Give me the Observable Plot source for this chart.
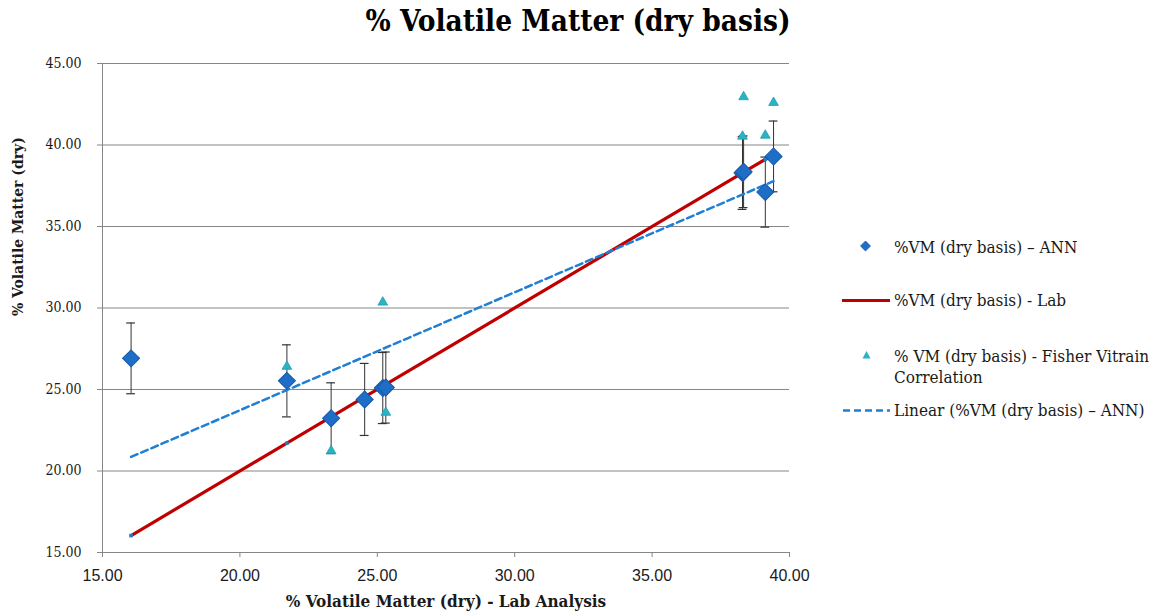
<!DOCTYPE html>
<html>
<head>
<meta charset="utf-8">
<script src="https://cdn.jsdelivr.net/npm/d3@7"></script>
<script src="https://cdn.jsdelivr.net/npm/@observablehq/plot@0.6"></script>
<style>
  body { margin: 0; background: #fff; }
  #wrap { position: relative; width: 1156px; height: 615px; font-family: "DejaVu Serif Condensed", "DejaVu Serif", serif; font-stretch: condensed; }
  #title { position: absolute; left: 0; top: 3px; width: 1156px; text-align: center; font-weight: bold; font-size: 29.5px; color: #000; }
  #chart { position: absolute; left: 0; top: 50px; }
  .leg { position: absolute; left: 842px; font-size: 17px; color: #1a1a1a; display: flex; align-items: flex-start; line-height: 21px; }
  .leg svg { flex: none; width: 50px; height: 21px; }
  .leg span { margin-left: 2px; }
</style>
</head>
<body>
<div id="wrap">
  <div id="title">% Volatile Matter (dry basis)</div>
  <div id="chart"></div>
</div>
<script>
// Lab analysis values (x) for each sample
const labVM = [16.04, 21.71, 23.32, 24.54, 25.20, 25.31, 38.29, 38.33, 39.12, 39.42];
// ANN predicted values
const annVM = [26.91, 25.53, 23.24, 24.39, 25.09, 25.12, 38.28, 38.36, 37.11, 39.30];
// ANN error bar half-widths
const annErr = [2.17, 2.21, 2.17, 2.21, 2.18, 2.18, 2.23, 2.2, 2.15, 2.17];
// Fisher Vitrain correlation points
const fisherX = [21.71, 23.32, 25.20, 25.31, 38.29, 38.33, 39.12, 39.42];
const fisherVM = [26.41, 21.23, 30.35, 23.59, 40.53, 42.95, 40.59, 42.60];
// tick labels
const xTicks = [15, 20, 25, 30, 35, 40];
const yTicks = [15, 20, 25, 30, 35, 40, 45];

const titleText = "% Volatile Matter (dry basis)";
const xLabel = "% Volatile Matter (dry) - Lab Analysis";
const yLabel = "% Volatile Matter (dry)";
const legendLabels = ["%VM (dry basis) – ANN", "%VM (dry basis) - Lab", "% VM (dry basis) - Fisher Vitrain Correlation", "Linear (%VM (dry basis) – ANN)"];

const ann = labVM.map((x, i) => ({x, y: annVM[i], lo: annVM[i] - annErr[i], hi: annVM[i] + annErr[i]}));
const lab = labVM.map(x => ({x, y: x})).sort((a, b) => a.x - b.x);
const fisher = fisherX.map((x, i) => ({x, y: fisherVM[i]}));

const capW = 0.16;
const gridColor = "#868686";
const serif = "'DejaVu Serif Condensed', 'DejaVu Serif', serif";
const narrow = "'Liberation Sans Narrow', 'Arial Narrow', 'Liberation Sans', sans-serif";

const chart = Plot.plot({
  width: 1156,
  height: 565,
  marginLeft: 102,
  marginRight: 367,
  marginTop: 13,
  marginBottom: 63,
  style: {fontFamily: serif, fontStretch: "condensed", background: "transparent", overflow: "visible"},
  x: {domain: [15, 40]},
  y: {domain: [15, 45]},
  marks: [
    Plot.gridY(yTicks, {stroke: gridColor, strokeOpacity: 1}),
    Plot.ruleX([15], {stroke: gridColor}),
    Plot.ruleY([15], {stroke: gridColor}),
    Plot.axisY(yTicks, {tickFormat: d => d.toFixed(2), tickSize: 5, tickPadding: 16, stroke: gridColor, fontSize: 14, fontFamily: serif, fill: "#1a1a1a", label: null}),
    Plot.axisX(xTicks, {tickFormat: d => d.toFixed(2), tickSize: 5, tickPadding: 12, stroke: gridColor, fontSize: 16, fontFamily: narrow, fill: "#1a1a1a", label: null}),
    Plot.text([yLabel], {frameAnchor: "left", rotate: -90, dx: -84, dy: 8, fontWeight: "bold", fontSize: 15.5, fontFamily: serif, fill: "#1a1a1a"}),
    Plot.text([xLabel], {frameAnchor: "bottom", dy: 49, lineAnchor: "middle", fontWeight: "bold", fontSize: 17, fontFamily: serif, fill: "#1a1a1a"}),
    // error bars
    Plot.ruleX(ann, {x: "x", y1: "lo", y2: "hi", stroke: "#333", strokeWidth: 1}),
    Plot.ruleY(ann, {y: "hi", x1: d => d.x - capW, x2: d => d.x + capW, stroke: "#333", strokeWidth: 1.2}),
    Plot.ruleY(ann, {y: "lo", x1: d => d.x - capW, x2: d => d.x + capW, stroke: "#333", strokeWidth: 1.2}),
    // Lab line
    Plot.line(lab, {x: "x", y: "y", stroke: "#c00000", strokeWidth: 3.2}),
    Plot.dot(lab, {x: "x", y: "y", symbol: "square", r: 2, fill: "#2b7bb8", stroke: "none"}),
    // trend line
    Plot.linearRegressionY(ann, {x: "x", y: "y", stroke: "#1f7fd4", strokeWidth: 2.5, strokeDasharray: "7,4", ci: 0}),
    // ANN diamonds
    Plot.dot(ann, {x: "x", y: "y", symbol: "square", rotate: 45, r: 6.8, fill: "#1e6ec8", stroke: "#1858a8", strokeWidth: 1}),
    // Fisher triangles
    Plot.dot(fisher, {x: "x", y: "y", symbol: "triangle", r: 3.6, fill: "#2ab3c4", stroke: "#1e9fb0", strokeWidth: 0.8})
  ]
});
document.getElementById("chart").appendChild(chart);

// legend
const wrap = document.getElementById("wrap");
function legRow(top, swatch, label) {
  const d = document.createElement("div");
  d.className = "leg";
  d.style.top = top + "px";
  d.innerHTML = `<svg viewBox="0 0 50 21">${swatch}</svg><span>${label}</span>`;
  wrap.appendChild(d);
}
legRow(237, `<rect x="20" y="5.5" width="7" height="7" transform="rotate(45 23.5 9)" fill="#1e6ec8" stroke="#1858a8" stroke-width="0.8"/>`, legendLabels[0]);
legRow(290, `<line x1="0" x2="48" y1="10.5" y2="10.5" stroke="#c00000" stroke-width="3.2"/>`, legendLabels[1]);
legRow(346, `<path d="M24.5,5 L28.5,12.5 L20.5,12.5 Z" fill="#2ab3c4"/>`, legendLabels[2].replace(" Correlation", "<br>Correlation"));
legRow(400, `<line x1="1" x2="48" y1="10.5" y2="10.5" stroke="#1f7fd4" stroke-width="2.5" stroke-dasharray="7,4"/>`, legendLabels[3]);
</script>
</body>
</html>
